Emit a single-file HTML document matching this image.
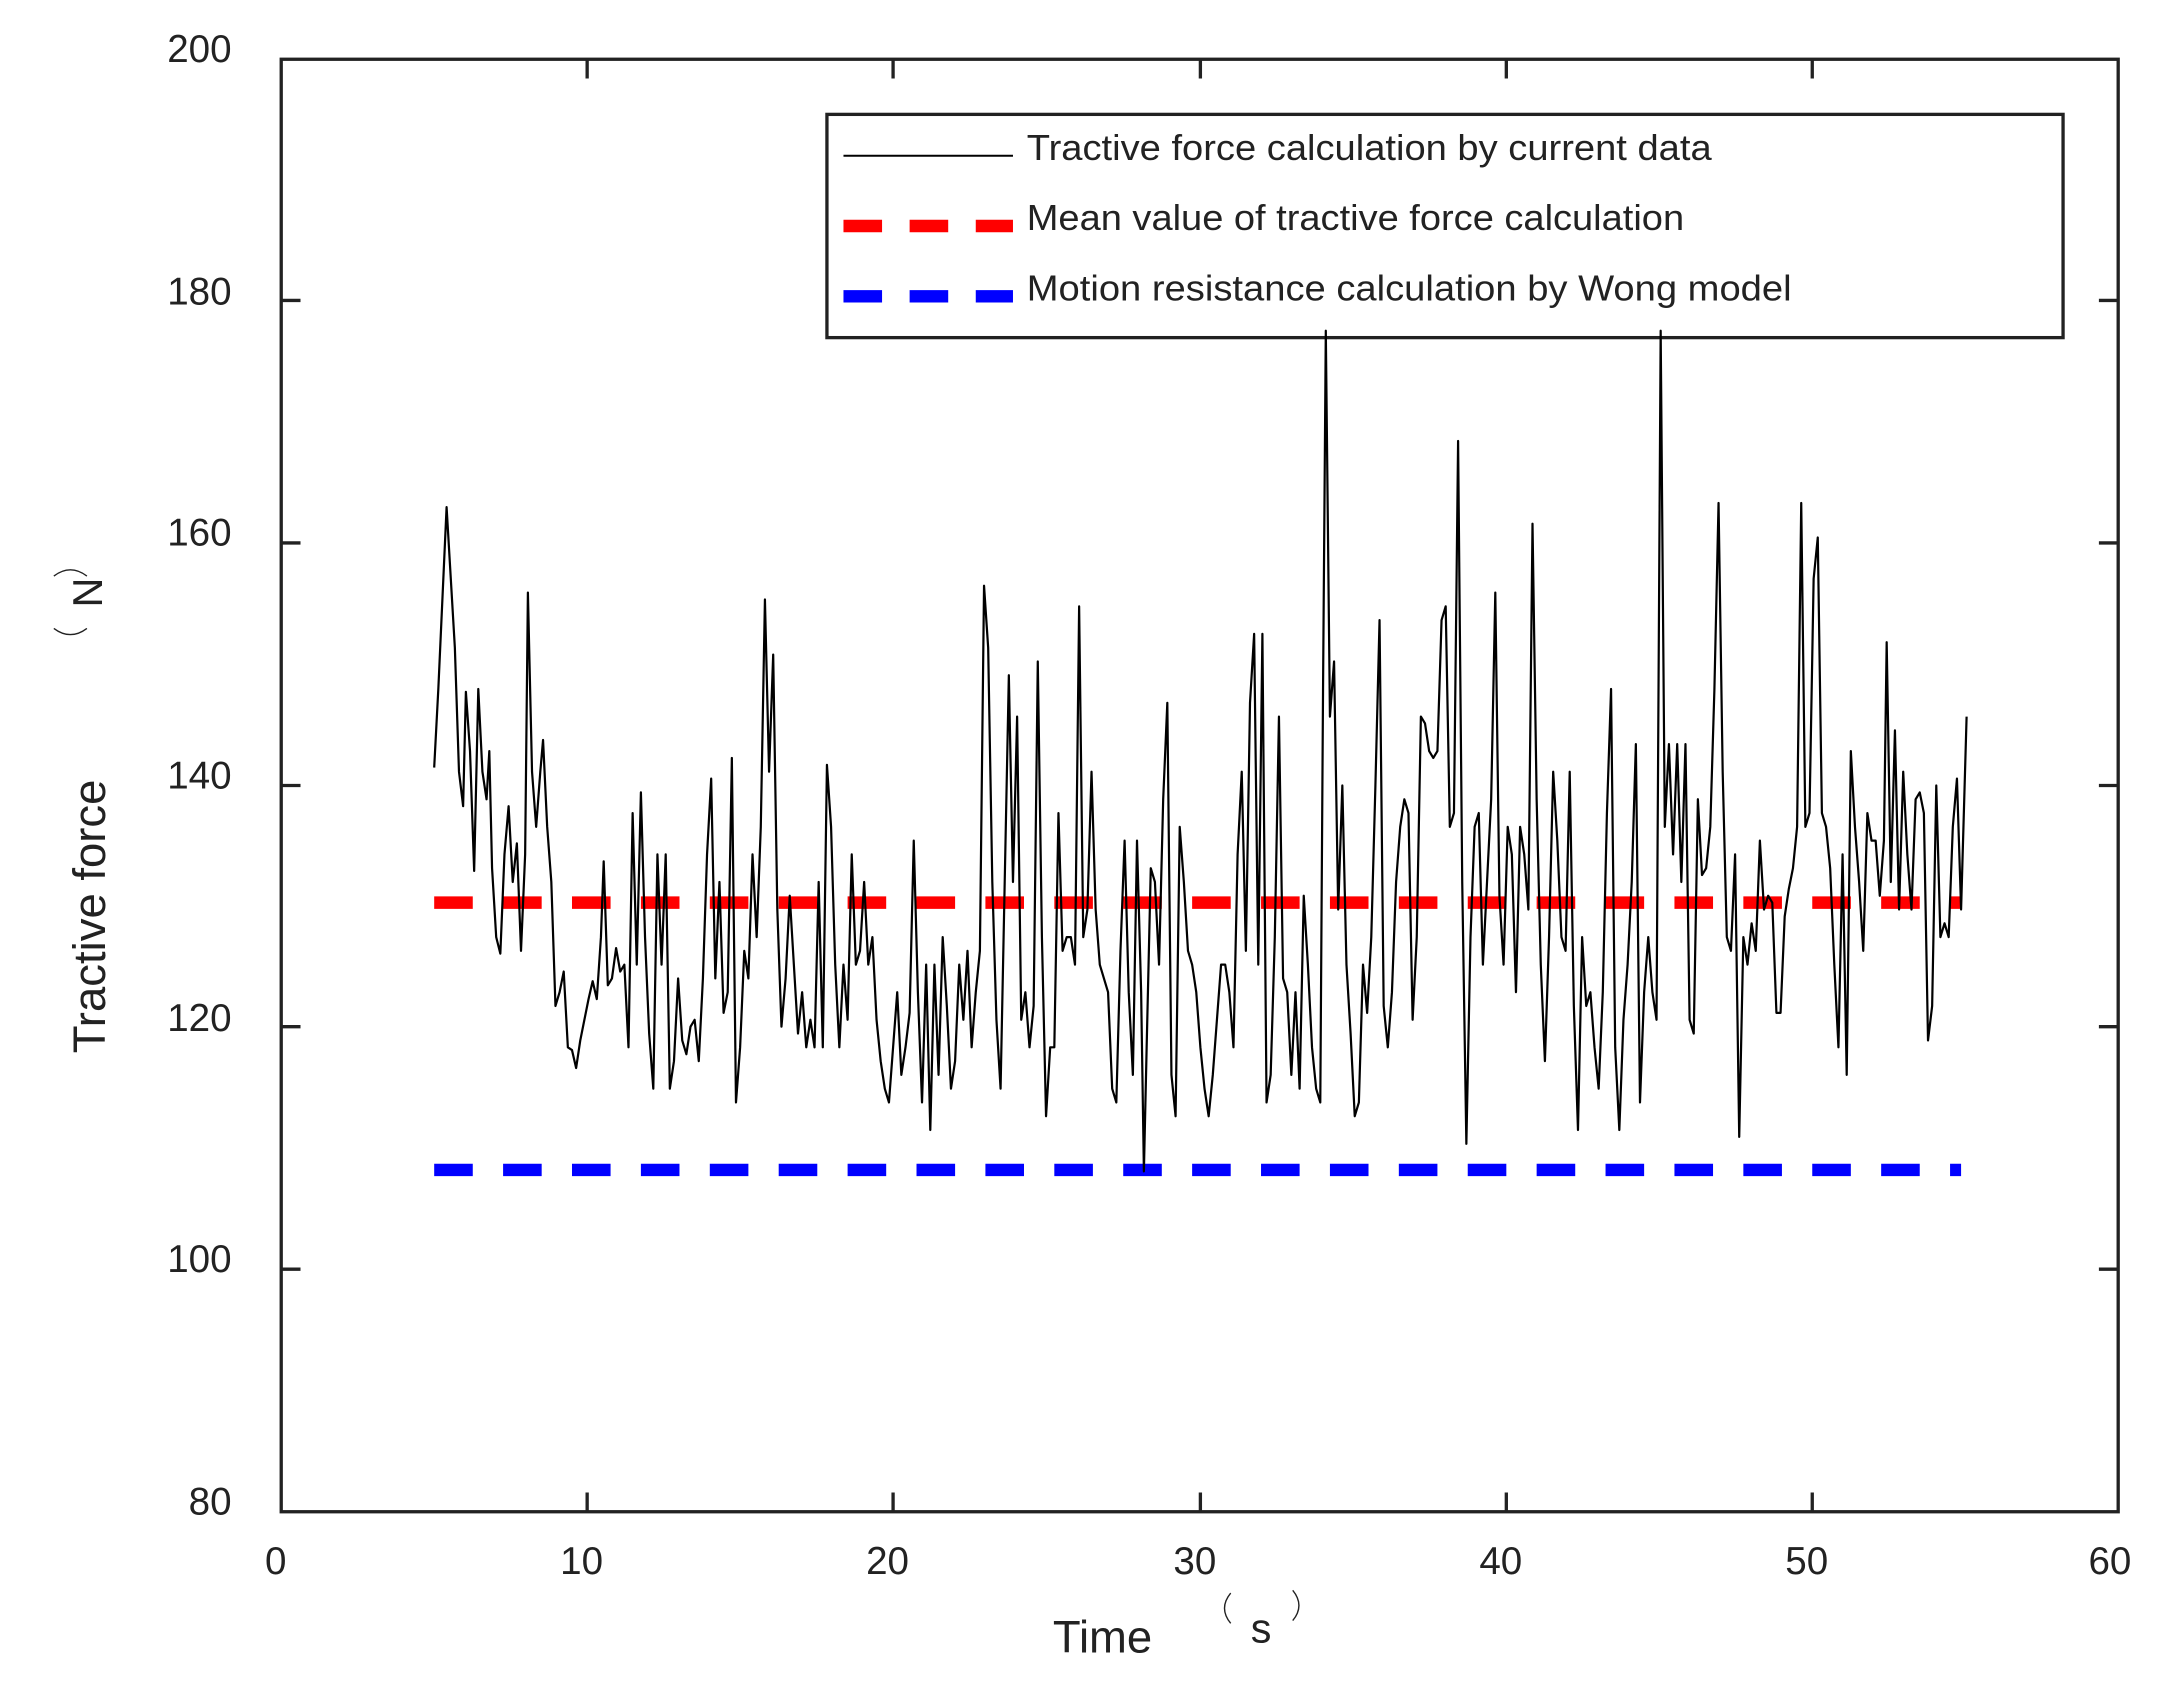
<!DOCTYPE html>
<html><head><meta charset="utf-8"><style>html,body{margin:0;padding:0;background:#fff}svg{display:block}text{font-family:"Liberation Sans",Arial,sans-serif;fill:#222}</style></head>
<body>
<svg width="2161" height="1684" viewBox="0 0 1568 1222" xmlns="http://www.w3.org/2000/svg">
<rect width="1568" height="1222" fill="#fff"/>
<line x1="315" y1="655" x2="1423" y2="655" stroke="#f00" stroke-width="9" stroke-dasharray="28,22"/>
<line x1="315" y1="849" x2="1423" y2="849" stroke="#00f" stroke-width="9" stroke-dasharray="28,22"/>
<rect x="204" y="43" width="1333" height="1054" fill="none" stroke="#222" stroke-width="2.4"/>
<g stroke="#222" stroke-width="2.4">
<path d="M426,1097v-14M648,1097v-14M871,1097v-14M1093,1097v-14M1315,1097v-14M426,43v14M648,43v14M871,43v14M1093,43v14M1315,43v14"/>
<path d="M204,921h14M204,745h14M204,570h14M204,394h14M204,218h14M1537,921h-14M1537,745h-14M1537,570h-14M1537,394h-14M1537,218h-14"/>
</g>
<g font-size="28" text-anchor="end">
<text x="168" y="1099">80</text><text x="168" y="923">100</text><text x="168" y="748">120</text><text x="168" y="572">140</text><text x="168" y="396">160</text><text x="168" y="221">180</text><text x="168" y="45">200</text>
</g>
<g font-size="28" text-anchor="middle">
<text x="200" y="1142">0</text><text x="422" y="1142">10</text><text x="644" y="1142">20</text><text x="867" y="1142">30</text><text x="1089" y="1142">40</text><text x="1311" y="1142">50</text><text x="1531" y="1142">60</text>
</g>
<text font-size="33" x="800" y="1199" text-anchor="middle">Time</text>
<text font-size="30" x="915" y="1192" text-anchor="middle">s</text>
<path d="M893,1156 q-9,11 0,22 M938,1154 q9,11 0,22" fill="none" stroke="#222" stroke-width="1"/>
<text font-size="33" transform="translate(76,665) rotate(-90)" text-anchor="middle">Tractive force</text>
<text font-size="30" transform="translate(74,430) rotate(-90)" text-anchor="middle">N</text>
<path d="M39,418 q12,-9 24,0 M39,456 q12,9 24,0" fill="none" stroke="#222" stroke-width="1"/>
<rect x="600" y="83" width="897" height="162" fill="#fff" stroke="#222" stroke-width="2.4"/>
<line x1="612" y1="113" x2="735" y2="113" stroke="#000" stroke-width="1.5"/>
<line x1="612" y1="164" x2="735" y2="164" stroke="#f00" stroke-width="9" stroke-dasharray="28,20"/>
<line x1="612" y1="215" x2="735" y2="215" stroke="#00f" stroke-width="9" stroke-dasharray="28,20"/>
<g font-size="26">
<text x="745" y="116" textLength="497" lengthAdjust="spacingAndGlyphs">Tractive force calculation by current data</text>
<text x="745" y="167" textLength="477" lengthAdjust="spacingAndGlyphs">Mean value of tractive force calculation</text>
<text x="745" y="218" textLength="555" lengthAdjust="spacingAndGlyphs">Motion resistance calculation by Wong model</text>
</g>
<polyline fill="none" stroke="#000" stroke-width="1.6" stroke-linejoin="round" points="315,557 318,500 324,368 330,470 333,560 336,585 338,502 341,545 344,632 347,500 350,560 353,580 355,545 357,630 360,680 363,692 366,620 369,585 372,640 375,612 378,690 381,620 383,430 386,560 389,600 392,560 394,537 397,600 400,640 403,730 406,720 409,705 412,760 415,762 418,775 421,755 424,740 427,725 430,712 433,725 436,680 438,625 441,715 444,710 447,688 450,705 453,700 456,760 459,590 462,700 465,575 468,680 471,750 474,790 477,620 480,700 483,620 486,790 489,770 492,710 495,755 498,765 501,745 504,740 507,770 510,710 513,620 516,565 519,710 522,640 525,735 528,720 531,550 534,800 537,760 540,690 543,710 546,620 549,680 552,600 555,435 558,560 561,475 564,660 567,745 570,710 573,650 576,700 579,750 582,720 585,760 588,740 591,760 594,640 597,760 600,555 603,600 606,700 609,760 612,700 615,740 618,620 621,700 624,690 627,640 630,700 633,680 636,740 639,770 642,790 645,800 648,760 651,720 654,780 657,760 660,735 663,610 666,720 669,800 672,700 675,820 678,700 681,780 684,680 687,730 690,790 693,770 696,700 699,740 702,690 705,760 708,720 711,690 714,425 717,470 720,640 723,740 726,790 729,640 732,490 735,640 738,520 741,740 744,720 747,760 750,730 753,480 756,680 759,810 762,760 765,760 768,590 771,690 774,680 777,680 780,700 783,440 786,680 789,660 792,560 795,660 798,700 801,710 804,720 807,790 810,800 813,690 816,610 819,720 822,780 825,610 828,720 830,850 832,760 835,630 838,640 841,700 844,580 847,510 850,780 853,810 856,600 859,640 862,690 865,700 868,720 871,760 874,790 877,810 880,780 883,740 886,700 889,700 892,720 895,760 898,620 901,560 904,690 907,510 910,460 913,700 916,460 919,800 922,780 925,680 928,520 931,710 934,720 937,780 940,720 943,790 946,650 949,700 952,760 955,790 958,800 960,500 962,240 965,520 968,480 971,660 974,570 977,700 980,750 983,810 986,800 989,700 992,735 995,680 998,570 1001,450 1004,730 1007,760 1010,720 1013,640 1016,600 1019,580 1022,590 1025,740 1028,680 1031,520 1034,525 1037,545 1040,550 1043,545 1046,450 1049,440 1052,600 1055,590 1058,320 1061,640 1064,830 1067,680 1070,600 1073,590 1076,700 1079,640 1082,580 1085,430 1088,650 1091,700 1094,600 1097,620 1100,720 1103,600 1106,620 1109,660 1112,380 1115,580 1118,700 1121,770 1124,680 1127,560 1130,610 1133,680 1136,690 1139,560 1142,730 1145,820 1148,680 1151,730 1154,720 1157,760 1160,790 1163,720 1166,590 1169,500 1172,760 1175,820 1178,740 1181,700 1184,640 1187,540 1190,800 1193,720 1196,680 1199,720 1202,740 1205,240 1208,600 1211,540 1214,620 1217,540 1220,640 1223,540 1226,740 1229,750 1232,580 1235,635 1238,630 1241,600 1244,500 1247,365 1250,560 1253,680 1256,690 1259,620 1262,825 1265,680 1268,700 1271,670 1274,690 1277,610 1280,660 1283,650 1286,655 1289,735 1292,735 1295,665 1298,645 1301,630 1304,600 1307,365 1310,600 1313,590 1316,420 1319,390 1322,590 1325,600 1328,630 1331,700 1334,760 1337,620 1340,780 1343,545 1346,600 1349,640 1352,690 1355,590 1358,610 1361,610 1364,650 1367,610 1369,466 1372,640 1375,530 1378,660 1381,560 1384,620 1387,660 1390,580 1393,575 1396,590 1399,755 1402,730 1405,570 1408,680 1411,670 1414,680 1417,600 1420,565 1423,660 1427,520"/>
</svg>
</body></html>
